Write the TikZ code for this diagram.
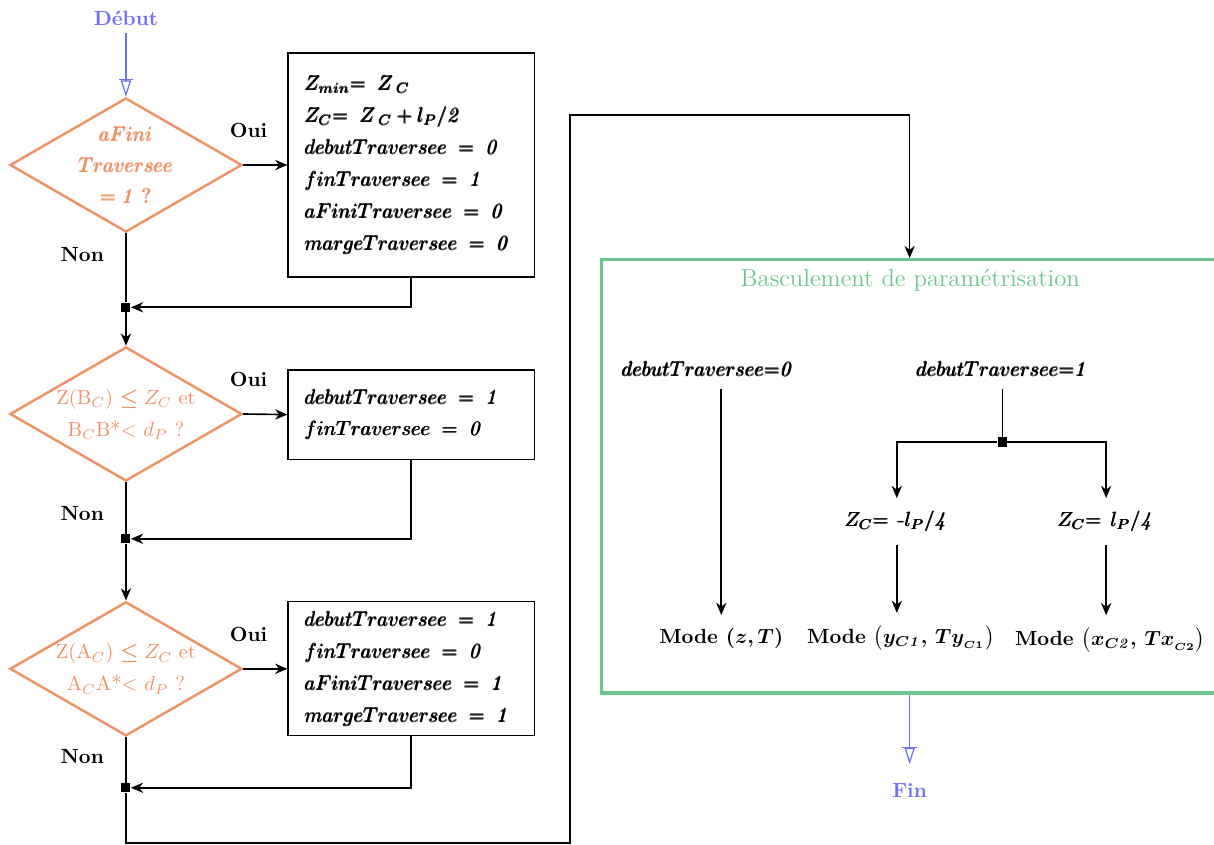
\documentclass[tikz,border=0pt]{standalone}
\usepackage{amsmath, amssymb}
\usepackage{tikz}
\usetikzlibrary{positioning,arrows.meta,shapes.geometric,calc}
\usepackage{xcolor}
\definecolor{TestOrange}{RGB}{240,146,102}
\definecolor{TermBlue}{RGB}{112,112,245}
\definecolor{SwitchGreen}{RGB}{108,198,140}
\newcommand{\heavy}[1]{$\pmb{#1}$}

\begin{document}
\begin{tikzpicture}[
    test/.style={diamond, draw=TestOrange, line width=1.2pt, text=TestOrange, aspect=1.73, minimum width=3.98cm, minimum height=2.30cm, inner sep=0pt, align=center},
    block/.style={rectangle, draw, semithick, minimum width=4.22cm, text width=3.64cm, inner xsep=0.29cm, align=left, font=\linespread{1.3}\selectfont},
    junction/.style={rectangle, fill=black, inner sep=0pt, minimum size=4.4pt},
    line/.style={draw, thick, -{Stealth[length=6pt, width=5pt]}},
    term/.style={text=TermBlue, font=\bfseries},
    flow/.style={draw=TermBlue, semithick, -{Bar[width=7pt] Triangle[open, length=8pt, width=5pt]}},
    yesno/.style={font=\bfseries},
    cond/.style={inner sep=6pt},
    mode/.style={inner xsep=1pt, inner ysep=6pt, font=\bfseries\boldmath},
]
\useasboundingbox (0,0) rectangle (20.82,-14.49);

% start
\node[term] (debut) at (2.16,-0.31) {Début};

% tests
\node[test, font=\linespread{1.25}\selectfont] (d1) at (2.16,-2.83) {\heavy{aFini}\\\heavy{Traversee}\\\heavy{= \mathit{1}\ ?}};
\node[test, font=\linespread{1.3}\selectfont] (d2) at (2.16,-7.10) {Z(B$_C$) $\boldsymbol{\leq} Z_C$ et\\B$_C$B*$<$ $d_P$ ?};
\node[test, font=\linespread{1.3}\selectfont] (d3) at (2.16,-11.47) {Z(A$_C$) $\boldsymbol{\leq} Z_C$ et\\A$_C$A*$<$ $d_P$ ?};

% affectations
\node[block, minimum height=3.84cm] (b1) at (7.05,-2.83) {\heavy{Z_{min}{=}\;\; Z_{\;C}}\\
    \heavy{Z_C{=}\;\; Z_{\;C} + l_P/\mathit{2}}\\
    \heavy{debutTraversee\; = \;\mathit{0}}\\
    \heavy{finTraversee\; = \;\mathit{1}}\\
    \heavy{aFiniTraversee\; = \;\mathit{0}}\\
    \heavy{margeTraversee\; = \;\mathit{0}}};
\node[block, minimum height=1.53cm] (b2) at (7.05,-7.11) {\heavy{debutTraversee\; = \;\mathit{1}}\\
    \heavy{finTraversee\; = \;\mathit{0}}};
\node[block, minimum height=2.30cm] (b3) at (7.05,-11.47) {\heavy{debutTraversee\; = \;\mathit{1}}\\
    \heavy{finTraversee\; = \;\mathit{0}}\\
    \heavy{aFiniTraversee\; = \;\mathit{1}}\\
    \heavy{margeTraversee\; = \;\mathit{1}}};

\node[junction] (j1) at (2.16,-5.27) {};
\node[junction] (j2) at (2.16,-9.24) {};
\node[junction] (j3) at (2.16,-13.51) {};

\draw[flow] (debut.south) -- (d1.north);
\foreach \n/\dy in {1/-0.36, 2/-0.53, 3/-0.34} {
    \draw[line] (d\n.east) -- (b\n.west);
    \node[yesno, above=0.34cm, xshift=0.09cm] at (d\n.east) {Oui};
    \node[yesno] at ($(d\n.south)+(-0.75,\dy)$) {Non};
    \draw[thick] (d\n.south) -- (j\n);
    \draw[line] (b\n.south) |- (j\n);
}
\draw[line] (j1) -- (d2.north);
\draw[line] (j2) -- (d3.north);

% basculement
\node[draw=SwitchGreen, line width=1.6pt, minimum width=10.58cm, minimum height=7.43cm] (bascule) at (15.60,-8.17) {};
\node[text=SwitchGreen, font=\large] (titre) at (15.61,-4.80) {Basculement de paramétrisation};
\coordinate (loopa) at (9.78,-14.46);
\coordinate (loopb) at (9.78,-1.97);
\draw[line] (j3) |- (loopa) -- (loopb) -| (bascule.north);

\node[cond] (c0) at (12.14,-6.33) {\heavy{debutTraversee{=}\mathit{0}}};
\node[cond] (c1) at (17.19,-6.33) {\heavy{debutTraversee{=}\mathit{1}}};
\node[junction] (j4) at (17.19,-7.58) {};
\node[cond] (zm) at (15.38,-8.94) {\heavy{Z_C{=}\;\,\text{-}l_P/\mathit{4}}};
\node[cond] (zp) at (18.97,-8.94) {\heavy{Z_C{=}\;\, l_P/\mathit{4}}};
\node[mode] (mz) at (12.37,-10.94) {Mode $(z,T)$};
\node[mode] (my) at (15.45,-10.94) {Mode $\bigl(y_{C\mathit{1}},\, Ty_{_{C1}}\bigr)$};
\node[mode] (mx) at (19.04,-10.98) {Mode $\bigl(x_{C\mathit{2}},\, Tx_{_{C2}}\bigr)$};

\draw[line] (c0.south -| mz.north) -- (mz.north);
\draw[thick] (c1.south) -- (j4);
\draw[line] (j4) -| (zm.north);
\draw[line] (j4) -| (zp.north);
\draw[line] (zm.south) -- (zm.south |- my.north);
\draw[line] (zp.south) -- (zp.south |- mx.north);

% fin
\node[term] (fin) at (15.60,-13.55) {Fin};
\draw[flow, shorten >=0.2cm] (bascule.south) -- (fin.north);
\end{tikzpicture}
\end{document}
